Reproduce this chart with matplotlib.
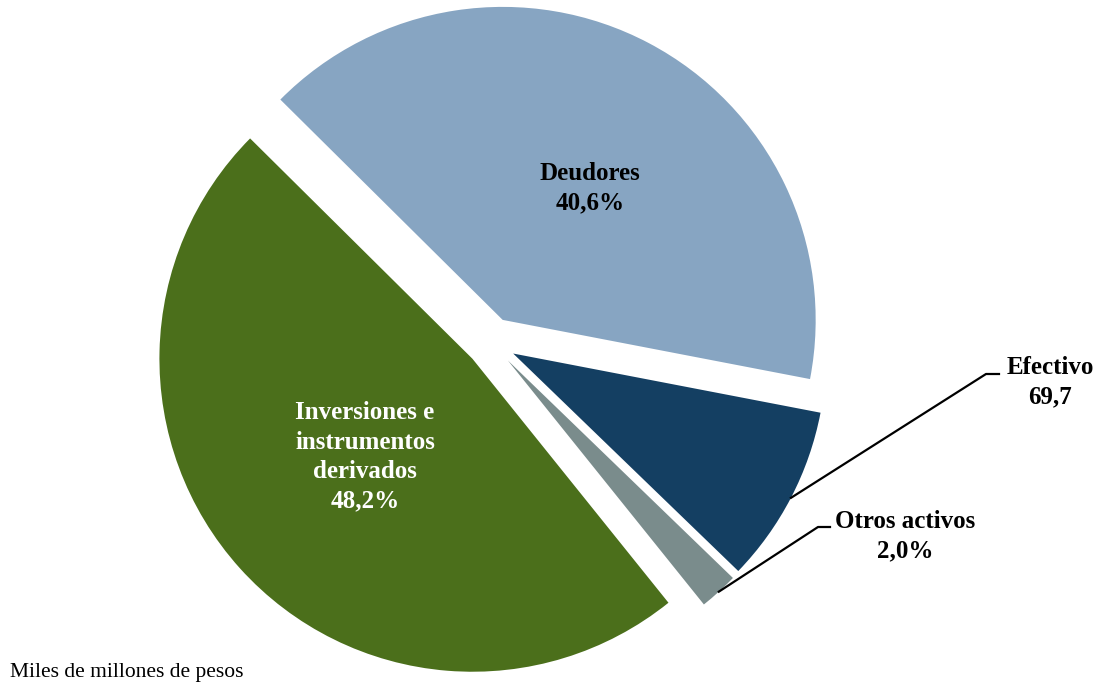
import math
import matplotlib
matplotlib.use("Agg")
import matplotlib.pyplot as plt

# ---- data ----
categories = ["Deudores", "Inversiones e\ninstrumentos\nderivados", "Otros activos", "Efectivo"]
shares = [40.6, 48.2, 2.0, 9.2]          # percent of total
share_labels = ["40,6%", "48,2%", "2,0%", "69,7"]
colors = ["#87A5C2", "#4B6F1B", "#7A8C8C", "#143F62"]

# ---- figure ----
W, H = 1098, 687
fig = plt.figure(figsize=(W / 100, H / 100), dpi=100)
ax = fig.add_axes([0, 0, 1, 1])
ax.set_xlim(0, W)
ax.set_ylim(0, H)
ax.set_aspect("equal")
ax.axis("off")

plt.rcParams["font.family"] = ["Liberation Serif", "DejaVu Serif"]

center = (491, 345)
radius = 313
explode = [25, 25, 25, 25]

wedges, _ = ax.pie(shares, colors=colors, startangle=-10.9, counterclock=True,
                   center=center, radius=radius, explode=explode,
                   wedgeprops=dict(linewidth=0), frame=True)
ax.set_xlim(0, W)
ax.set_ylim(0, H)
ax.axis("off")

txt = dict(fontsize=18, fontweight="bold", ha="center", va="center", linespacing=1.36)

# Inside labels
ax.text(590, H - 188, f"{categories[0]}\n{share_labels[0]}", color="black", **txt)
ax.text(365, H - 457, f"{categories[1]}\n{share_labels[1]}", color="white", **txt)

# Outside labels with leader lines
def arc_mid(w):
    cx, cy = w.center
    tm = math.radians(0.5 * (w.theta1 + w.theta2))
    return cx + w.r * math.cos(tm), cy + w.r * math.sin(tm)

# Efectivo
x0, y0 = arc_mid(wedges[3])
ax.plot([x0, 986, 999], [y0, H - 374, H - 374], color="black", lw=1.6)
ax.text(1050, H - 382, f"{categories[3]}\n{share_labels[3]}", color="black", **txt)

# Otros activos
x0, y0 = arc_mid(wedges[2])
ax.plot([x0, 818, 830], [y0, H - 527, H - 527], color="black", lw=1.6)
ax.text(905, H - 536, f"{categories[2]}\n{share_labels[2]}", color="black", **txt)

ax.text(10, H - 673, "Miles de millones de pesos", fontsize=15.5, ha="left", va="center",
        color="black")

fig.savefig("out.png", dpi=100)
